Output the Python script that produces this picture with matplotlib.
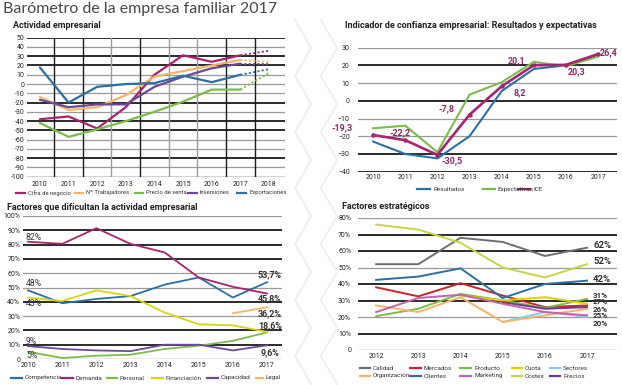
import matplotlib
matplotlib.use("Agg")
import matplotlib.pyplot as plt
from matplotlib.lines import Line2D
import numpy as np

W, H = 622, 385
fig = plt.figure(figsize=(W/100, H/100), dpi=100)
fig.patch.set_facecolor("white")

NARROW = ["Liberation Sans Narrow", "Roboto", "DejaVu Sans"]
plt.rcParams["font.family"] = NARROW

# ---------------- data ----------------
years1 = [2010, 2011, 2012, 2013, 2014, 2015, 2016, 2017]
act_names = ["Cifra de negocio", "Nº Trabajadores", "Precio de venta", "Inversiones", "Exportaciones"]
cifra = [-38, -35, -48, -25, 10, 31, 24, 31]
trabajadores = [-14, -28, -25, -12, 8, 14, 20, 26]
precio = [-42, -57, -49, -40, -30, -19, -6, -6]
inversiones = [-17, -25, -22, -22, -3, 8, 17, 22]
exportaciones = [18, -20, -3, 0, 1, 9, 2, 10]
forecast_2018 = [36, 24, 12, 22, 16]

conf_names = ["Resultados", "Expectativas", "ICE"]
resultados = [-23, -30, -32.5, -20, 5.5, 18, 20, 26]
expectativas = [-15.5, -14, -29, 3.5, 10.5, 22, 19.5, 25]
ice = [-19.3, -22.2, -30.5, -7.8, 8.2, 20.1, 20.3, 26.4]
ice_labels = ["-19,3", "-22,2", "-30,5", "-7,8", "8,2", "20,1", "20,3", "26,4"]

fac_names = ["Competencia", "Demanda", "Personal", "Financiación", "Capacidad", "Legal"]
competencia = [48, 39, 42, 44, 52, 57, 43, 53.7]
demanda = [82, 80.5, 91.5, 80.5, 74.5, 57, 50.5, 45.8]
personal = [5, 0.7, 2.3, 3, 7, 9.3, 12.7, 18.6]
financiacion = [43, 40.5, 48, 44, 32.5, 24.3, 23.5, 19]
capacidad = [9, 7, 6, 5.5, 10, 10, 6, 9.6]
legal = [None, None, None, None, None, None, 32, 36.2]
fac_left_labels = ["82%", "48%", "43%", "9%", "5%"]
fac_right_labels = ["53,7%", "45,8%", "36,2%", "18,6%", "9,6%"]

years4 = [2012, 2013, 2014, 2015, 2016, 2017]
est_names = ["Calidad", "Mercados", "Producto", "Cuota", "Sectores",
             "Organización", "Clientes", "Marketing", "Costes", "Precios"]
calidad = [52, 52, 68, 65.5, 57, 62]
mercados = [38, 32.5, 40.5, 33, 26, 27]
producto = [20.5, 25, 34, 30, 25.5, 31]
cuota = [None, None, 33, 30, 32, 28]
sectores = [None, None, None, 17, 23, 20]
organizacion = [27, 23, 32, 17, 21, 25]
clientes = [42.5, 44.5, 49.5, 31.5, 40, 42]
marketing = [23, 31.5, 33.5, 28, 23, 21]
costes = [76, 73, 65, 50, 44, 52]
precios = [None, None, None, 29, 25, 26]
est_labels = ["62%", "52%", "42%", "31%", "27%", "26%", "25%", "20%"]

# ---------------- colours ----------------
MAG = "#a8246e"
ORA = "#f4b46a"
GRN = "#7dbb4c"
PUR = "#6a4a98"
BLU = "#2b6fa3"
YEL = "#d8d414"
GRY = "#6e6f71"
RED = "#c7262d"
LBL = "#86cdee"
PINK = "#c662ae"
LIME = "#c6d642"
PREC = "#6b3a8c"
DARK = "#1a1a1a"
LG = "#9a9a9a"


def ax_px(l, t, r, b):
    return fig.add_axes([l/W, 1-b/H, (r-l)/W, (b-t)/H])


def fy(y):
    return 1 - y/H


def style(ax):
    for s in ax.spines.values():
        s.set_visible(False)
    ax.tick_params(length=0, labelsize=5, colors="#222222", pad=2)
    ax.set_facecolor("none")


def legend_item(x0, x1, y, color, text, fs=4.6):
    fig.add_artist(Line2D([x0/W, x1/W], [fy(y), fy(y)], color=color, lw=1.6,
                          transform=fig.transFigure))
    fig.text((x1+3)/W, fy(y), text, fontsize=fs, va="center", ha="left", color="#333333")


# ---------------- decorative chevrons ----------------
for xc in [303, 329]:
    ys = np.arange(20, 400, 28)
    xs = [xc + (8 if i % 2 else -8) for i in range(len(ys))]
    fig.add_artist(Line2D([x/W for x in xs], [fy(y) for y in ys], color="#efefef",
                          lw=1.4, transform=fig.transFigure, zorder=0))

# ---------------- title ----------------
fig.text(3/W, fy(9), "Barómetro de la empresa familiar 2017", fontsize=11.5,
         family=["Lato", "DejaVu Sans"], color="#474747",
         va="center", ha="left")

# ---------------- panel 1 ----------------
fig.text(13/W, fy(25), "Actividad empresarial", fontsize=6.5, fontweight="bold",
         color="#222222", va="center")
ax1 = ax_px(27, 37.7, 285, 176.7)
style(ax1)
ax1.set_xlim(2009.55, 2018.56)
ax1.set_ylim(-100, 50)
dark_h = [50, 30, 20, -20, -40, -50, -80]
for v in range(-90, 51, 10):
    ax1.axhline(v, color=DARK if v in dark_h else LG, lw=1.3 if v in dark_h else 0.9, zorder=1)
ax1.axhline(-100, color=DARK, lw=1.0, zorder=1)
for xv, c in [(2010.5, DARK), (2011.5, DARK), (2012.5, LG), (2013.5, DARK), (2014.5, LG),
              (2015.5, LG), (2016.5, DARK), (2017.5, DARK)]:
    ax1.axvline(xv, color=c, lw=1.0, zorder=1)
ax1.set_yticks(range(-100, 51, 10))
ax1.set_yticklabels([str(v) for v in range(-100, 51, 10)])
ax1.set_xticks(years1 + [2018])
ax1.tick_params(axis="x", pad=3)
ser1 = [cifra, trabajadores, precio, inversiones, exportaciones]
col1 = [MAG, ORA, GRN, PUR, BLU]
for s, c, f in zip(ser1, col1, forecast_2018):
    ax1.plot(years1, s, color=c, lw=1.6, zorder=3, solid_capstyle="round")
    ax1.plot([2017, 2018], [s[-1], f], color=c, lw=1.3, ls=(0, (1.2, 1.2)), zorder=3)

legend_item(16, 25, 193, MAG, act_names[0], fs=4.2)
legend_item(75, 83, 193, ORA, act_names[1], fs=4.2)
legend_item(135, 143, 193, GRN, act_names[2], fs=4.2)
legend_item(188, 197, 193, PUR, act_names[3], fs=4.2)
legend_item(237, 246, 193, BLU, act_names[4], fs=4.2)

# ---------------- panel 2 ----------------
fig.text(345/W, fy(25), "Indicador de confianza empresarial: Resultados y expectativas",
         fontsize=6.5, fontweight="bold", color="#222222", va="center")
ax2 = ax_px(358, 47.7, 617, 171.7)
style(ax2)
ax2.set_xlim(2009.53, 2017.59)
ax2.set_ylim(-40, 30)
dark2 = {20: DARK, 0: DARK, -30: DARK, -40: DARK}
for v in range(-40, 31, 10):
    ax2.axhline(v, color=dark2.get(v, LG), lw=1.3 if v in dark2 else 0.9, zorder=1)
ax2.set_yticks(range(-40, 31, 10))
ax2.set_xticks(years1)
ax2.tick_params(axis="y", pad=6)
ax2.plot(years1, resultados, color=BLU, lw=1.5, zorder=3)
ax2.plot(years1, expectativas, color=GRN, lw=1.5, zorder=3)
ax2.plot(years1, ice, color=MAG, lw=1.9, zorder=4, marker="o", ms=2.2)
# offsets in pixels (dx right, dy up)
offs_px = [(-31, 7, "center"), (-5, 7, "center"), (15, -6, "center"), (-23, 6, "center"),
           (18, -6, "center"), (-17, 5, "center"), (11, -7, "center"), (2, 1, "left")]
for x, v, lab, (dx, dy, ha) in zip(years1, ice, ice_labels, offs_px):
    ax2.annotate(lab, (x, v), xytext=(dx*0.72, dy*0.72), textcoords="offset points",
                 fontsize=6.5, fontweight="bold", color="#8c2a66", ha=ha, va="center",
                 zorder=5)

legend_item(417, 430, 189, BLU, conf_names[0])
legend_item(483, 495, 189, GRN, conf_names[1])
legend_item(518, 530, 189, MAG, conf_names[2])

# ---------------- panel 3 ----------------
fig.text(7/W, fy(208), "Factores que dificultan la actividad empresarial", fontsize=6.5,
         fontweight="bold", color="#222222", va="center")
ax3 = ax_px(23, 216, 282, 359)
style(ax3)
ax3.set_xlim(2009.85, 2017.44)
ax3.set_ylim(0, 100)
dark3 = [90, 80, 70, 40, 20, 10]
for v in range(10, 101, 10):
    ax3.axhline(v, color=DARK if v in dark3 else LG, lw=1.3 if v in dark3 else 0.9, zorder=1)
ax3.axhline(0, color=LG, lw=1.0, zorder=1)
ax3.set_yticks(range(0, 101, 10))
ax3.set_yticklabels(["0"] + [f"{v}%" for v in range(10, 101, 10)])
ax3.set_xticks(years1)
ser3 = [competencia, demanda, personal, financiacion, capacidad, legal]
col3 = [BLU, MAG, GRN, YEL, PUR, ORA]
for s, c in zip(ser3, col3):
    xs = [x for x, v in zip(years1, s) if v is not None]
    vs = [v for v in s if v is not None]
    ax3.plot(xs, vs, color=c, lw=1.3, zorder=3)
left_y = [237, 284, 304, 341, 355]
for lab, yy in zip(fac_left_labels, left_y):
    fig.text(26/W, fy(yy), lab, fontsize=6.2, color="#333333", ha="left", va="center",
             zorder=5)
right_y = [275, 299, 314, 326, 353]
for lab, yy in zip(fac_right_labels, right_y):
    fig.text(270/W, fy(yy), lab, fontsize=6.4, color="#333333", ha="center", va="center",
             fontweight="bold", zorder=5)

legend_item(11, 22, 378, BLU, fac_names[0])
legend_item(62, 73, 378, MAG, fac_names[1])
legend_item(107, 117, 378, GRN, fac_names[2])
legend_item(152, 163, 378, YEL, fac_names[3])
legend_item(207, 218, 378, PUR, fac_names[4])
legend_item(256, 263, 378, ORA, fac_names[5])

# ---------------- panel 4 ----------------
fig.text(342/W, fy(207), "Factores estratégicos", fontsize=6.5, fontweight="bold",
         color="#222222", va="center")
ax4 = ax_px(358, 218, 617, 350)
style(ax4)
ax4.set_xlim(2011.57, 2017.71)
ax4.set_ylim(0, 80)
dark4 = [70, 60, 40, 30, 10]
for v in range(10, 81, 10):
    ax4.axhline(v, color=DARK if v in dark4 else LG, lw=1.3 if v in dark4 else 0.9, zorder=1)
ax4.axhline(0, color=LG, lw=1.0, zorder=1)
ax4.set_yticks(range(0, 81, 10))
ax4.set_yticklabels(["0"] + [f"{v}%" for v in range(10, 81, 10)])
ax4.tick_params(axis="y", pad=5)
ax4.set_xticks(years4)
ser4 = [calidad, mercados, producto, cuota, sectores, organizacion, clientes, marketing,
        costes, precios]
col4 = [GRY, RED, GRN, "#e0cf00", LBL, ORA, BLU, PINK, LIME, PREC]
for s, c in zip(ser4, col4):
    xs = [x for x, v in zip(years4, s) if v is not None]
    vs = [v for v in s if v is not None]
    ax4.plot(xs, vs, color=c, lw=1.4, zorder=3)
label_y = [246, 262, 279, 295, 302, 309, 316, 323]
for lab, yy in zip(est_labels, label_y):
    fig.text(593/W, fy(yy), lab, fontsize=5.8 if yy > 290 else 6.8, color="#333333",
             va="center", ha="left", fontweight="bold")

cols_x = [(360, 370), (410, 421), (460, 471), (512, 522), (550, 560)]
for i, (nm, c) in enumerate(zip(est_names, col4)):
    row, col = divmod(i, 5)
    x0, x1 = cols_x[col]
    legend_item(x0, x1, 368 + row * 8, c, nm)

fig.savefig("out.png", dpi=100, facecolor="white")
